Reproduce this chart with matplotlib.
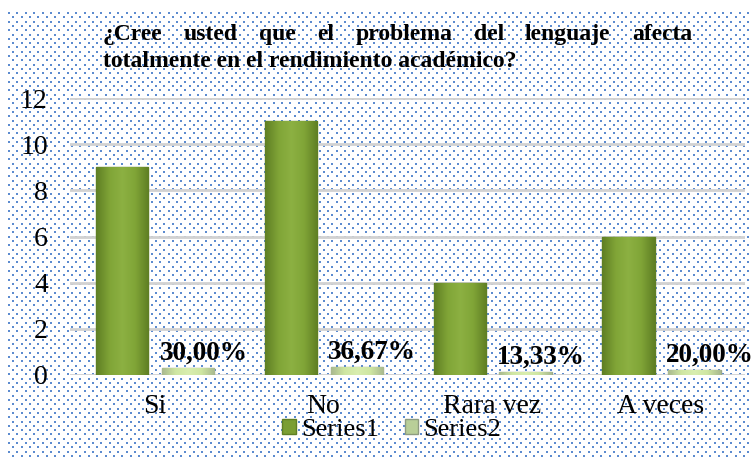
import numpy as np
import matplotlib
matplotlib.use('Agg')
import matplotlib.pyplot as plt
from matplotlib.colors import LinearSegmentedColormap

plt.rcParams['font.family'] = ['Liberation Serif', 'DejaVu Serif']

categories = ['Si', 'No', 'Rara vez', 'A veces']
series1 = [9, 11, 4, 6]
series2 = [0.3000, 0.3667, 0.1333, 0.2000]
series2_labels = ['30,00%', '36,67%', '13,33%', '20,00%']
yticks = [0, 2, 4, 6, 8, 10, 12]

title_line1 = '¿Cree usted que el problema del lenguaje afecta'
title_line2 = 'totalmente en el rendimiento académico?'

W, H = 755, 459
fig = plt.figure(figsize=(W / 100, H / 100), dpi=100)

# dotted background pattern (pixel coordinates)
bg = fig.add_axes([0, 0, 1, 1], zorder=-5)
bg.set_xlim(0, W)
bg.set_ylim(H, 0)
bg.axis('off')
px, py = [], []
for r, yy in enumerate(np.arange(13, 456, 4.3)):
    x0 = 9 if r % 2 == 0 else 13.2
    xs = np.arange(x0, 749, 8.4)
    px.extend(xs)
    py.extend([yy] * len(xs))
bg.scatter(px, py, s=3.2, marker='s', c='#4a7fca', linewidths=0, alpha=0.9)

ax = fig.add_axes([70 / W, 1 - 375 / H, (745 - 70) / W, (375 - 98) / H])
ax.set_facecolor('none')
ax.set_xlim(-0.5, 3.5)
ax.set_ylim(0, 12)
for s in ax.spines.values():
    s.set_visible(False)
ax.set_yticks(yticks)
ax.yaxis.grid(True, color='#d2d2d2', linewidth=2)
ax.set_axisbelow(True)
ax.tick_params(length=0, labelsize=20)
ax.tick_params(axis='y', pad=16)
ax.tick_params(axis='x', pad=14)

x = np.arange(len(categories))
w = 0.31
green = LinearSegmentedColormap.from_list('g', ['#5f7f24', '#80a437', '#8cb142', '#80a437', '#5f7f24'])
light = LinearSegmentedColormap.from_list('l', ['#a9b98f', '#cfe6a2', '#d9eeb0', '#cfe6a2', '#a9b98f'])
grad = np.linspace(0, 1, 64).reshape(1, -1)

b1 = ax.bar(x - 0.19, series1, w, color='#84a83a', edgecolor='#5f7f24', linewidth=1, label='Series1', zorder=3)
b2 = ax.bar(x + 0.20, series2, w, color='#cfe6a2', edgecolor='#9aa88a', linewidth=1, label='Series2', zorder=3)
for bars, cmap in ((b1, green), (b2, light)):
    for b in bars:
        bx, by = b.get_x(), b.get_y()
        im = ax.imshow(grad, cmap=cmap, aspect='auto', zorder=3.5,
                       extent=(bx, bx + b.get_width(), by, by + b.get_height()))
        im.set_clip_path(b)
ax.set_xlim(-0.5, 3.5)
ax.set_ylim(0, 12)
ax.set_xticks(x)
ax.set_xticklabels(categories)

for xi, h, lab in zip(x, series2, series2_labels):
    ax.annotate(lab, (xi + 0.20, h), xytext=(11, 6), textcoords='offset points',
                ha='center', va='baseline', fontsize=19.5, fontweight='bold', zorder=5)

leg_handles = [
    plt.Rectangle((0, 0), 1, 1, facecolor='#7a9e33', edgecolor='#5f7f24'),
    plt.Rectangle((0, 0), 1, 1, facecolor='#b9cf98', edgecolor='#8e9c80'),
]
ax.legend(leg_handles, ['Series1', 'Series2'], loc='center',
          bbox_to_anchor=(392 / W, 1 - 430 / H), bbox_transform=fig.transFigure,
          ncol=2, frameon=False, fontsize=19, handlelength=0.5, handleheight=0.5,
          handletextpad=0.2, columnspacing=1.0, borderpad=0)

# title, first line justified between x=103 and x=692
fs_title = 17
words = title_line1.split()
fig.canvas.draw()
rend = fig.canvas.get_renderer()
texts = [fig.text(0, 1 - 40 / H, wd, fontsize=fs_title, fontweight='bold', va='baseline') for wd in words]
widths = [t.get_window_extent(rend).width for t in texts]
gap = ((692 - 103) - sum(widths)) / (len(words) - 1)
cx = 103
for t, wd in zip(texts, widths):
    t.set_x(cx / W)
    cx += wd + gap
fig.text(103 / W, 1 - 67 / H, title_line2, fontsize=fs_title, fontweight='bold', va='baseline')

fig.savefig('out.png', dpi=100)
